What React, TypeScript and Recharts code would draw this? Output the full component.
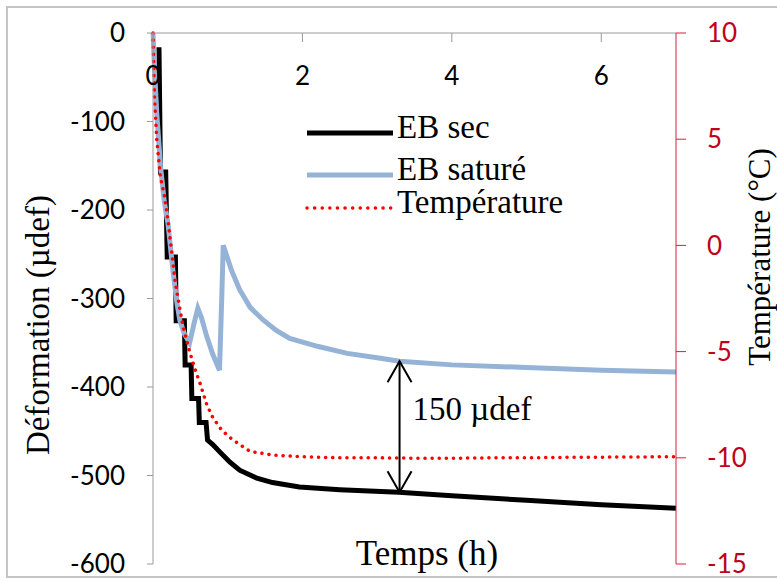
import React from 'react'
import { LineChart, Line, XAxis, YAxis, Legend, ReferenceLine } from 'recharts'

// EB sec (deformation, µdef) - stepped curve
const secTime = [0.08, 0.1, 0.17, 0.19, 0.3, 0.31, 0.42, 0.43, 0.51, 0.52, 0.61, 0.62, 0.71, 0.73, 0.8, 0.89, 1.03, 1.16, 1.39, 1.6, 1.96, 2.5, 3.29, 4, 5, 6, 7]
const secValue = [-16, -157, -157, -253, -253, -325, -325, -375, -375, -413, -413, -440, -440, -460, -465, -473, -485, -494, -503, -508, -513, -516, -519, -523, -528, -533, -537]

// EB saturé (deformation, µdef)
const satTime = [0, 0.02, 0.05, 0.1, 0.15, 0.2, 0.27, 0.32, 0.36, 0.42, 0.49, 0.55, 0.6, 0.65, 0.72, 0.8, 0.89, 0.92, 0.94, 0.98, 1.05, 1.16, 1.3, 1.47, 1.65, 1.83, 2.2, 2.6, 3.0, 3.3, 4, 5, 6, 7]
const satValue = [0, -40, -90, -150, -190, -215, -271, -305, -325, -340, -350, -328, -311, -322, -343, -363, -381, -300, -240, -250, -268, -290, -310, -324, -336, -345, -354, -362, -367, -371, -375, -378, -381, -383]

// Température (°C)
const tempTime = [0, 0.02, 0.05, 0.1, 0.15, 0.2, 0.25, 0.3, 0.35, 0.4, 0.49, 0.56, 0.63, 0.72, 0.8, 0.92, 1.05, 1.15, 1.3, 1.6, 2.0, 2.5, 3, 3.5, 4, 4.5, 5, 5.5, 6, 6.5, 7]
const tempValue = [10, 7, 5, 3.2, 2.4, 1.2, -0.3, -1.8, -2.8, -3.8, -5.0, -5.8, -6.5, -7.5, -8.1, -8.7, -9.1, -9.35, -9.7, -9.87, -9.95, -10, -10, -10.02, -10.02, -10, -10, -9.98, -9.97, -9.96, -9.95]

const timeTicks = [0, 2, 4, 6]
const defTicks = [0, -100, -200, -300, -400, -500, -600]
const tempTicks = [10, 5, 0, -5, -10, -15]
const legendOrder = ['EB sec', 'EB saturé', 'Température']

// annotation: gap between the two deformation curves
const gapTime = 3.3
const gapTop = -371
const gapBottom = -519
const gapLabel = '150 µdef'

const zip = (t: number[], v: number[]) => t.map((x, i) => ({ t: x, v: v[i] }))
const secData = zip(secTime, secValue)
const satData = zip(satTime, satValue)
const tempData = zip(tempTime, tempValue)

const serif = '"Liberation Serif", "Times New Roman", serif'
const sans = 'Lato, "Liberation Sans", sans-serif'
const red = '#ff0000'
const blue = '#95b3d7'

const LegendBox = (props: any) => {
  const items = [...(props.payload || [])].sort(
    (a: any, b: any) => legendOrder.indexOf(a.value) - legendOrder.indexOf(b.value)
  )
  const rows = [0, 42, 75]
  return (
    <svg width={300} height={110} style={{ overflow: 'visible' }}>
      {items.map((e: any, i: number) => {
        const y = 21 + rows[i]
        const dotted = e.value === 'Température'
        return (
          <g key={e.value}>
            <line
              x1={2}
              x2={88}
              y1={y}
              y2={y}
              stroke={e.color}
              strokeWidth={dotted ? 3.5 : 5}
              strokeDasharray={dotted ? '0.1 7.5' : undefined}
              strokeLinecap={dotted ? 'round' : 'butt'}
            />
            <text x={92} y={y + 5} fontFamily={serif} fontSize={33} fill="#000">
              {e.value}
            </text>
          </g>
        )
      })}
    </svg>
  )
}

const GapArrow = (props: any) => {
  const { x1, y1, y2 } = props
  return (
    <g>
      <line x1={x1} x2={x1} y1={y1} y2={y2} stroke="#000" strokeWidth={2} />
      <polyline points={`${x1 - 12},${y1 + 21} ${x1},${y1} ${x1 + 12},${y1 + 21}`} fill="none" stroke="#000" strokeWidth={2} />
      <polyline points={`${x1 - 12},${y2 - 21} ${x1},${y2} ${x1 + 12},${y2 - 21}`} fill="none" stroke="#000" strokeWidth={2} />
      <text x={x1 + 13} y={(y1 + y2) / 2 - 7} fontFamily={serif} fontSize={33} fill="#000">
        {gapLabel}
      </text>
    </g>
  )
}

export default function App() {
  return (
    <div style={{ position: 'absolute', left: 0, top: 0, width: 777, height: 581, background: '#fff', overflow: 'hidden' }}>
      <div style={{ position: 'absolute', left: 6, top: 6, width: 800, height: 568, border: '2px solid #c4c4c4' }} />
      <div style={{ position: 'absolute', left: 0, top: 0 }}>
        <LineChart width={777} height={581} margin={{ top: 33, right: 41, left: 93, bottom: 17 }}>
          <XAxis
            dataKey="t"
            type="number"
            domain={[0, 7]}
            ticks={timeTicks}
            orientation="top"
            mirror
            height={10}
            tickSize={9}
            tickMargin={25}
            stroke="#9a9a9a"
            tick={{ fill: '#000', fontSize: 26, fontFamily: sans }}
          />
          <YAxis
            yAxisId="def"
            domain={[-600, 0]}
            ticks={defTicks}
            width={60}
            tickSize={6}
            tickMargin={22}
            stroke="#9a9a9a"
            tick={{ fill: '#000', fontSize: 26, fontFamily: sans }}
          />
          <YAxis
            yAxisId="temp"
            orientation="right"
            domain={[-15, 10]}
            ticks={tempTicks}
            width={60}
            tickSize={10}
            tickMargin={21}
            stroke="#d4213d"
            tick={{ fill: '#c0001a', fontSize: 26, fontFamily: sans, textAnchor: 'start' }}
          />
          <Legend
            content={<LegendBox />}
            layout="horizontal"
            verticalAlign="middle"
            align="center"
            wrapperStyle={{ left: 305, top: 112, width: 300, height: 110 }}
          />
          <Line
            yAxisId="def"
            data={secData}
            dataKey="v"
            name="EB sec"
            type="linear"
            stroke="#000"
            strokeWidth={5}
            dot={false}
            isAnimationActive={false}
          />
          <Line
            yAxisId="def"
            data={satData}
            dataKey="v"
            name="EB saturé"
            type="linear"
            stroke={blue}
            strokeWidth={5}
            dot={false}
            isAnimationActive={false}
          />
          <Line
            yAxisId="temp"
            data={tempData}
            dataKey="v"
            name="Température"
            type="linear"
            stroke={red}
            strokeWidth={3.5}
            strokeDasharray="0.1 7"
            strokeLinecap="round"
            dot={false}
            isAnimationActive={false}
          />
          <ReferenceLine
            yAxisId="def"
            segment={[
              { x: gapTime, y: gapTop },
              { x: gapTime, y: gapBottom },
            ]}
            shape={<GapArrow />}
          />
          <text x={38} y={325} transform="rotate(-90 38 325)" textAnchor="middle" dominantBaseline="central" fontFamily={serif} fontSize={33} fill="#000">
            Déformation (µdef)
          </text>
          <text x={759} y={257} transform="rotate(-90 759 257)" textAnchor="middle" dominantBaseline="central" fontFamily={serif} fontSize={31} fill="#000">
            Température (°C)
          </text>
          <text x={427} y={565} textAnchor="middle" fontFamily={serif} fontSize={35} fill="#000">
            Temps (h)
          </text>
        </LineChart>
      </div>
    </div>
  )
}
